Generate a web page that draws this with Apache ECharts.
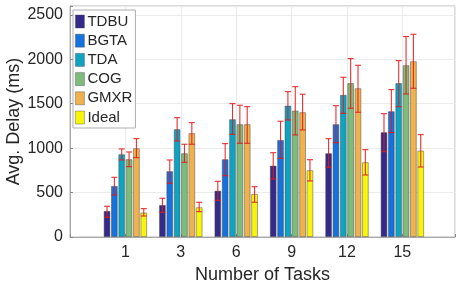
<!DOCTYPE html>
<html><head><meta charset="utf-8">
<script src="https://cdn.jsdelivr.net/npm/echarts@6/dist/echarts.min.js"></script>
<style>html,body{margin:0;padding:0;background:#fff}#c{width:456px;height:288px}</style>
</head><body><div id="c"></div>
<script>
// ---- data ----
const categories = ['1', '3', '6', '9', '12', '15'];
const seriesNames = ['TDBU', 'BGTA', 'TDA', 'COG', 'GMXR', 'Ideal'];
const TDBU  = [293, 360, 521, 803, 942, 1179];
const BGTA  = [574, 740, 875, 1092, 1269, 1415];
const TDA   = [931, 1213, 1325, 1478, 1599, 1731];
const COG   = [875, 942, 1269, 1422, 1731, 1933];
const GMXR  = [999, 1168, 1269, 1404, 1674, 1978];
const Ideal = [274, 334, 484, 751, 841, 972];
const TDBU_lo  = [222, 278, 413, 653, 785, 960];
const TDBU_hi  = [346, 436, 627, 949, 1107, 1388];
const BGTA_lo  = [473, 605, 690, 886, 1062, 1175];
const BGTA_hi  = [672, 867, 1051, 1303, 1478, 1659];
const TDA_lo   = [867, 1081, 1156, 1317, 1393, 1467];
const TDA_hi   = [991, 1343, 1501, 1636, 1798, 1985];
const COG_lo   = [792, 841, 1055, 1149, 1449, 1610];
const COG_hi   = [957, 1044, 1483, 1692, 2008, 2256];
const GMXR_lo  = [893, 1044, 1055, 1205, 1404, 1674];
const GMXR_hi  = [1107, 1287, 1467, 1607, 1933, 2282];
const Ideal_lo = [236, 285, 391, 631, 698, 788];
const Ideal_hi = [319, 391, 566, 870, 983, 1152];
const yTicks = [0, 500, 1000, 1500, 2000, 2500];

// ---- style ----
const colors = ['#342a8a', '#1571dc', '#0fa3c2', '#7dbc7b', '#efb24c', '#f8f50a'];
const values = [TDBU, BGTA, TDA, COG, GMXR, Ideal];
const lows = [TDBU_lo, BGTA_lo, TDA_lo, COG_lo, GMXR_lo, Ideal_lo];
const highs = [TDBU_hi, BGTA_hi, TDA_hi, COG_hi, GMXR_hi, Ideal_hi];
const BAR_W = 6.6, GAP = 0.75;
const txt = '#262626';
const font = 'Arial, "Liberation Sans", Helvetica, sans-serif';

const series = [];
values.forEach((vals, s) => {
  series.push({
    name: seriesNames[s], type: 'bar', barWidth: BAR_W, barGap: (GAP / BAR_W * 100) + '%',
    itemStyle: { color: colors[s], borderColor: 'rgba(70,70,70,0.6)', borderWidth: 0.8 },
    data: vals.map((v, i) => [i + 1, v]), z: 2
  });
});
values.forEach((vals, s) => {
  const off = (s - 2.5) * (BAR_W + GAP);
  series.push({
    type: 'custom', z: 5, silent: true,
    data: vals.map((v, i) => [i + 1, lows[s][i], highs[s][i]]),
    renderItem: (params, api) => {
      const x = api.value(0);
      const p1 = api.coord([x, api.value(1)]);
      const p2 = api.coord([x, api.value(2)]);
      const cx = p1[0] + off, hw = 3;
      const st = { stroke: '#e4191c', lineWidth: 1.1, opacity: 0.9 };
      return { type: 'group', children: [
        { type: 'line', shape: { x1: cx, y1: p1[1], x2: cx, y2: p2[1] }, style: st },
        { type: 'line', shape: { x1: cx - hw, y1: p1[1], x2: cx + hw, y2: p1[1] }, style: st },
        { type: 'line', shape: { x1: cx - hw, y1: p2[1], x2: cx + hw, y2: p2[1] }, style: st }
      ]};
    }
  });
});

const chart = echarts.init(document.getElementById('c'), null, { renderer: 'canvas' });
chart.setOption({
  animation: false,
  textStyle: { fontFamily: font },
  grid: { left: 70, right: 1, top: 6, bottom: 51, containLabel: false, outerBoundsMode: 'none',
    show: true, borderColor: '#b4b4b4', borderWidth: 1, backgroundColor: 'transparent' },
  legend: {
    orient: 'vertical', left: 73, top: 10, data: seriesNames,
    icon: 'rect', itemWidth: 9, itemHeight: 13, itemGap: 4.2,
    backgroundColor: '#fff', borderColor: '#adadad', borderWidth: 1, borderRadius: 0,
    padding: [4, 3, 3, 2],
    itemStyle: { borderColor: 'rgba(70,70,70,0.5)', borderWidth: 0.8 },
    textStyle: { fontSize: 15, color: txt, fontFamily: font, padding: [0, 0, 0, -2] }
  },
  xAxis: {
    type: 'value', min: 0, max: 6.95, interval: 1,
    name: 'Number of Tasks', nameLocation: 'middle', nameGap: 29, nameMoveOverlap: false,
    nameTextStyle: { fontSize: 18, color: txt, fontFamily: font },
    axisLine: { show: true, lineStyle: { color: '#a8a8a8', width: 1 } },
    axisTick: { show: true, inside: true, length: 3, lineStyle: { color: '#888' } },
    axisLabel: { fontSize: 16, color: txt, margin: 8, fontFamily: font,
      formatter: v => (Number.isInteger(v) && v >= 1 && v <= categories.length) ? categories[v - 1] : '' },
    splitLine: { show: true, lineStyle: { color: '#ebebeb', width: 1 } }
  },
  yAxis: {
    type: 'value', min: 0, max: 2600, interval: 500,
    name: 'Avg. Delay (ms)', nameLocation: 'middle', nameGap: 47, nameMoveOverlap: false,
    nameTextStyle: { fontSize: 18, color: txt, fontFamily: font },
    axisLine: { show: true, lineStyle: { color: '#a8a8a8', width: 1 } },
    axisTick: { show: true, inside: true, length: 3, lineStyle: { color: '#888' } },
    axisLabel: { fontSize: 16, color: txt, margin: 7, fontFamily: font,
      formatter: v => yTicks.indexOf(v) >= 0 ? String(v) : '' },
    splitLine: { show: true, lineStyle: { color: '#ebebeb', width: 1 } }
  },
  series: series
});
</script></body></html>
